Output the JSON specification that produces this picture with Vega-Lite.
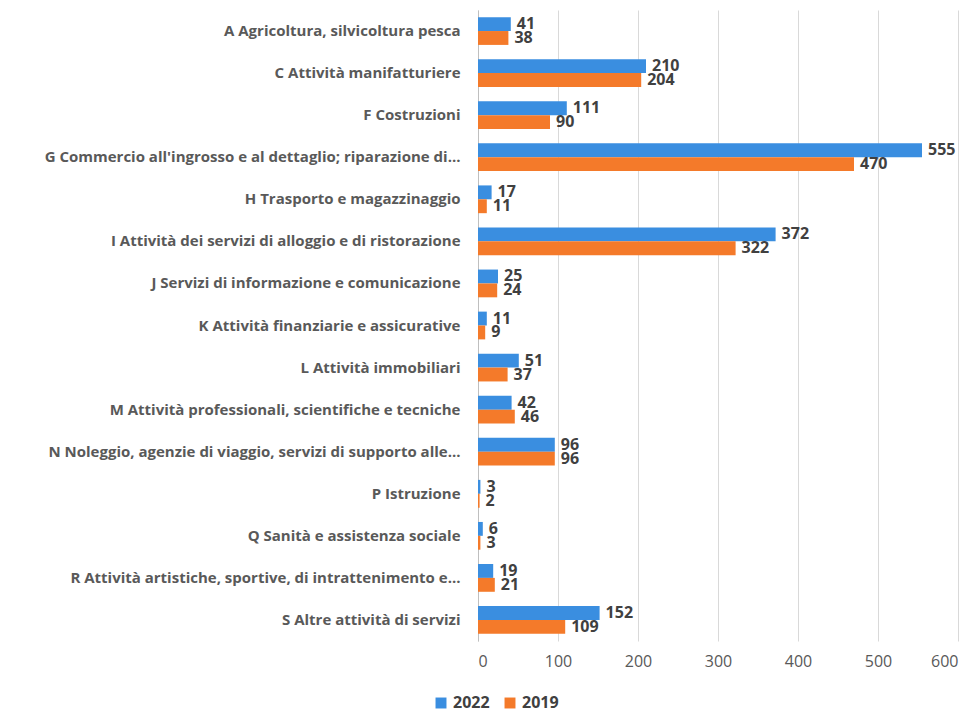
{
  "$schema": "https://vega.github.io/schema/vega-lite/v6.json",
  "width": 480,
  "height": 631,
  "padding": {"left": 18, "top": 10, "right": 17, "bottom": 5},
  "background": "white",
  "config": {"view": {"stroke": null}, "font": "Open Sans"},
  "data": {
    "values": [
      {"cat": "A Agricoltura, silvicoltura pesca", "year": "2022", "v": 41},
      {"cat": "A Agricoltura, silvicoltura pesca", "year": "2019", "v": 38},
      {"cat": "C Attività manifatturiere", "year": "2022", "v": 210},
      {"cat": "C Attività manifatturiere", "year": "2019", "v": 204},
      {"cat": "F Costruzioni", "year": "2022", "v": 111},
      {"cat": "F Costruzioni", "year": "2019", "v": 90},
      {"cat": "G Commercio all'ingrosso e al dettaglio; riparazione di...", "year": "2022", "v": 555},
      {"cat": "G Commercio all'ingrosso e al dettaglio; riparazione di...", "year": "2019", "v": 470},
      {"cat": "H Trasporto e magazzinaggio ", "year": "2022", "v": 17},
      {"cat": "H Trasporto e magazzinaggio ", "year": "2019", "v": 11},
      {"cat": "I Attività dei servizi di alloggio e di ristorazione ", "year": "2022", "v": 372},
      {"cat": "I Attività dei servizi di alloggio e di ristorazione ", "year": "2019", "v": 322},
      {"cat": "J Servizi di informazione e comunicazione", "year": "2022", "v": 25},
      {"cat": "J Servizi di informazione e comunicazione", "year": "2019", "v": 24},
      {"cat": "K Attività finanziarie e assicurative", "year": "2022", "v": 11},
      {"cat": "K Attività finanziarie e assicurative", "year": "2019", "v": 9},
      {"cat": "L Attività immobiliari", "year": "2022", "v": 51},
      {"cat": "L Attività immobiliari", "year": "2019", "v": 37},
      {"cat": "M Attività professionali, scientifiche e tecniche", "year": "2022", "v": 42},
      {"cat": "M Attività professionali, scientifiche e tecniche", "year": "2019", "v": 46},
      {"cat": "N Noleggio, agenzie di viaggio, servizi di supporto alle...", "year": "2022", "v": 96},
      {"cat": "N Noleggio, agenzie di viaggio, servizi di supporto alle...", "year": "2019", "v": 96},
      {"cat": "P Istruzione", "year": "2022", "v": 3},
      {"cat": "P Istruzione", "year": "2019", "v": 2},
      {"cat": "Q Sanità e assistenza sociale ", "year": "2022", "v": 6},
      {"cat": "Q Sanità e assistenza sociale ", "year": "2019", "v": 3},
      {"cat": "R Attività artistiche, sportive, di intrattenimento e...", "year": "2022", "v": 19},
      {"cat": "R Attività artistiche, sportive, di intrattenimento e...", "year": "2019", "v": 21},
      {"cat": "S Altre attività di servizi", "year": "2022", "v": 152},
      {"cat": "S Altre attività di servizi", "year": "2019", "v": 109}
    ]
  },
  "encoding": {
    "y": {
      "field": "cat",
      "type": "nominal",
      "sort": null,
      "title": null,
      "scale": {"paddingInner": 0.34, "paddingOuter": 0.17},
      "axis": {
        "labelFont": "Open Sans",
        "labelFontSize": 15,
        "labelFontWeight": "bold",
        "labelColor": "#595959",
        "labelLimit": 470,
        "labelPadding": 18,
        "ticks": false,
        "domainColor": "#bfbfbf",
        "minExtent": 460,
        "maxExtent": 460
      }
    },
    "yOffset": {"field": "year", "type": "nominal", "sort": ["2022", "2019"]},
    "x": {
      "field": "v",
      "type": "quantitative",
      "title": null,
      "scale": {"domain": [0, 600]},
      "axis": {
        "values": [0, 100, 200, 300, 400, 500, 600],
        "grid": true,
        "gridColor": "#d9d9d9",
        "domain": false,
        "ticks": false,
        "labelFont": "Open Sans",
        "labelFontSize": 16,
        "labelColor": "#595959",
        "labelPadding": 12
      }
    }
  },
  "layer": [
    {
      "mark": {"type": "bar"},
      "encoding": {
        "color": {
          "field": "year",
          "type": "nominal",
          "scale": {"domain": ["2022", "2019"], "range": ["#3a8ee0", "#f47a2a"]},
          "legend": {
            "orient": "none",
            "legendX": -45,
            "legendY": 685,
            "direction": "horizontal",
            "title": null,
            "symbolType": "square",
            "symbolSize": 120,
            "symbolStrokeWidth": 0,
            "labelFont": "Open Sans",
            "labelFontSize": 16,
            "labelFontWeight": "bold",
            "labelColor": "#404040",
            "labelOffset": 4,
            "columnPadding": 12
          }
        }
      }
    },
    {
      "mark": {"type": "text", "align": "left", "baseline": "middle", "dx": 6, "font": "Open Sans", "fontSize": 16, "fontWeight": "bold", "color": "#404040"},
      "encoding": {"text": {"field": "v", "type": "quantitative"}}
    }
  ]
}
